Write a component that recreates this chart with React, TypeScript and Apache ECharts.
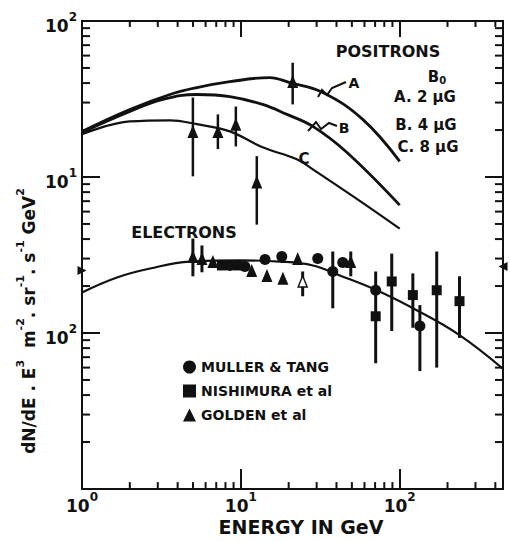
import React, { useEffect, useRef } from 'react';
import * as echarts from 'echarts';

const INK = '#111';
const FONT = '"DejaVu Sans", "Liberation Sans", sans-serif';

// Axis extents (energy in GeV, flux in plotted units)
const xRange = [1, 447];
const yRange = [0.1, 100];

// Minor tick marks (major ticks come from the axes themselves)
const xMinorTicks = [2, 3, 4, 5, 6, 7, 8, 9, 20, 30, 40, 50, 60, 70, 80, 90, 200, 300, 400];
const yMinorTicks = [0.2, 0.3, 0.4, 0.5, 0.6, 0.7, 0.8, 0.9, 2, 3, 4, 5, 6, 7, 8, 9, 20, 30, 40, 50, 60, 70, 80, 90];

// Positron model curves [E, value]
const curveA = [[1, 19.6], [2.0, 27.1], [3.58, 33.8], [5.29, 37.4], [8.53, 40.8], [15.2, 43.4], [20.3, 40.3], [32.8, 34.8], [58.5, 23.4], [100, 12.6]];
const curveB = [[1, 19.3], [2.0, 26.3], [3.23, 31.4], [5.29, 33.8], [8.53, 32.8], [13.7, 29.2], [19.5, 25.2], [28.4, 21.1], [46.4, 14.4], [100, 6.6]];
const curveC = [[1, 18.8], [2.0, 22.7], [3.58, 23.1], [5.29, 21.8], [8.53, 19.6], [13.7, 15.5], [22.5, 13.0], [28.4, 11.2], [53.7, 7.24], [100, 4.67]];

// Electron model curve
const electronCurve = [[1, 1.82], [1.66, 2.27], [2.68, 2.59], [4.78, 2.87], [9.86, 2.92], [17.6, 2.87], [28.4, 2.71], [42, 2.34], [71.7, 1.88], [128, 1.4], [238, 0.97], [447, 0.59]];

// Positron data (triangles) and error bars [E, low, high]
const positronPoints = [[4.99, 19.6], [7.17, 19.6], [9.3, 21.8], [12.6, 9.3], [21.2, 40.9]];
const positronErrors = [[4.99, 10.1, 32.3], [7.17, 15.1, 25.2], [9.3, 15.7, 28.3], [12.6, 4.95, 13.6], [21.2, 29.2, 54]];

// Electron data
const mullerTang = [[8.53, 2.71], [10.6, 2.67], [14.2, 2.96], [18.1, 3.09], [30.5, 3.0], [37.9, 2.48], [43.8, 2.83], [70.6, 1.88], [134, 1.11]];
const nishimura = [[7.6, 2.71], [9.58, 2.71], [70.6, 1.28], [89.1, 2.14], [121, 1.75], [171, 1.88], [238, 1.6]];
const golden = [[4.99, 3.09], [5.69, 3.0], [6.67, 2.87], [11.7, 2.52], [14.6, 2.34], [18.4, 2.24], [22.8, 3.0], [49.2, 2.87]];
const goldenOpen = [[24.5, 2.14]];
const electronErrors = [[4.99, 2.31, 4.03], [5.69, 2.45, 3.64], [24.5, 1.72, 2.48], [37.9, 1.44, 3.33], [49.2, 2.31, 3.33], [70.6, 0.64, 2.48], [89.1, 1.03, 3.23], [121, 1.08, 2.41], [134, 0.57, 1.51], [171, 0.6, 3.33], [238, 0.93, 2.31]];

// Normalisation markers on the frame
const leftMarker = [[1, 2.52]];
const rightMarker = [[447, 2.67]];

// Labels
const xDecadeLabels: Record<number, string> = { 0: '0', 1: '1', 2: '2' };
const yDecadeLabels: Record<number, string> = { 2: '2', 1: '1', 0: '2' };

const supRich = {
  b: { fontSize: 17, fontWeight: 'bold', fontFamily: FONT, color: INK, lineHeight: 20, padding: [10, 0, 0, 0] },
  s: { fontSize: 12, fontWeight: 'bold', fontFamily: FONT, color: INK, lineHeight: 14, verticalAlign: 'top' },
};

function decadeFormatter(map: Record<number, string>) {
  return (v: number) => {
    const l = Math.log10(v);
    const r = Math.round(l);
    if (Math.abs(l - r) > 0.01) return '';
    const s = map[r];
    if (s === undefined) return '';
    return '{b|10}{s|' + s + '}';
  };
}

// tick length expressed as a fraction of a decade (plot is ~158 px per decade)
const PX_PER_DECADE = 158;
const decadeFrac = (px: number) => Math.pow(10, px / PX_PER_DECADE);

export default function App() {
  const ref = useRef<HTMLDivElement>(null);
  useEffect(() => {
    if (!ref.current) return;
    const chart = echarts.init(ref.current, undefined, { renderer: 'svg' });

    // vertical segments: [x, yLow, yHigh]
    const vSegSeries = (data: number[][], width: number, z: number) => ({
      type: 'custom',
      data,
      encode: { x: 0, y: [1, 2] },
      z,
      silent: true,
      renderItem: (params: any, api: any) => {
        const p1 = api.coord([api.value(0), api.value(1)]);
        const p2 = api.coord([api.value(0), api.value(2)]);
        return {
          type: 'line',
          shape: { x1: p1[0], y1: p1[1], x2: p2[0], y2: p2[1] },
          style: { stroke: INK, lineWidth: width },
        };
      },
    });

    // horizontal segments: [xLow, xHigh, y]
    const hSegSeries = (data: number[][], width: number, z: number) => ({
      type: 'custom',
      data,
      encode: { x: [0, 1], y: 2 },
      z,
      silent: true,
      renderItem: (params: any, api: any) => {
        const p1 = api.coord([api.value(0), api.value(2)]);
        const p2 = api.coord([api.value(1), api.value(2)]);
        return {
          type: 'line',
          shape: { x1: p1[0], y1: p1[1], x2: p2[0], y2: p2[1] },
          style: { stroke: INK, lineWidth: width },
        };
      },
    });

    const bottomMinor = xMinorTicks.map((v) => [v, yRange[0], yRange[0] * decadeFrac(7)]);
    const topMinor = xMinorTicks.map((v) => [v, yRange[1] / decadeFrac(6), yRange[1]]);
    const leftMinor = yMinorTicks.map((v) => [xRange[0], xRange[0] * decadeFrac(8), v]);
    const rightMinor = yMinorTicks.map((v) => [xRange[1] / decadeFrac(8), xRange[1], v]);

    const curve = (data: number[][], width: number) => ({
      type: 'line',
      data,
      smooth: 0.4,
      showSymbol: false,
      symbol: 'none',
      z: 2,
      lineStyle: { color: INK, type: 'solid', width, opacity: 1 },
      silent: true,
    });

    const dot = { color: INK, opacity: 1 };

    const option: any = {
      animation: false,
      backgroundColor: '#fff',
      grid: { left: 82, top: 21, right: 7, bottom: 53, show: true, borderColor: INK, borderWidth: 2, backgroundColor: 'transparent' },
      xAxis: [
        {
          type: 'log',
          logBase: 10,
          min: xRange[0],
          max: xRange[1],
          position: 'bottom',
          axisLine: { show: false },
          axisTick: { show: true, inside: true, length: 20, lineStyle: { color: INK, width: 2 } },
          splitLine: { show: false },
          minorTick: { show: false },
          axisLabel: {
            show: true,
            margin: 2,
            showMaxLabel: false,
            formatter: decadeFormatter(xDecadeLabels),
            rich: supRich,
          },
        },
        {
          type: 'log',
          logBase: 10,
          min: xRange[0],
          max: xRange[1],
          position: 'top',
          axisLine: { show: false },
          axisTick: { show: true, inside: true, length: 16, lineStyle: { color: INK, width: 2 } },
          splitLine: { show: false },
          minorTick: { show: false },
          axisLabel: { show: false },
        },
      ],
      yAxis: [
        {
          type: 'log',
          logBase: 10,
          min: yRange[0],
          max: yRange[1],
          position: 'left',
          axisLine: { show: false },
          axisTick: { show: true, inside: true, length: 18, lineStyle: { color: INK, width: 2 } },
          splitLine: { show: false },
          minorTick: { show: false },
          axisLabel: {
            show: true,
            margin: 5,
            formatter: decadeFormatter(yDecadeLabels),
            rich: supRich,
          },
        },
        {
          type: 'log',
          logBase: 10,
          min: yRange[0],
          max: yRange[1],
          position: 'right',
          axisLine: { show: false },
          axisTick: { show: true, inside: true, length: 18, lineStyle: { color: INK, width: 2 } },
          splitLine: { show: false },
          minorTick: { show: false },
          axisLabel: { show: false },
        },
      ],
      legend: {
        data: ['MULLER & TANG', 'NISHIMURA et al', 'GOLDEN et al'],
        orient: 'vertical',
        left: 178,
        top: 355,
        itemWidth: 13,
        itemHeight: 13,
        itemGap: 10,
        selectedMode: false,
        itemStyle: { color: INK, opacity: 1 },
        textStyle: { fontSize: 14, fontWeight: 'bold', color: INK, fontFamily: FONT },
      },
      series: [
        curve(curveA, 2.8),
        curve(curveB, 2.8),
        curve(curveC, 2.2),
        curve(electronCurve, 2.2),
        vSegSeries(positronErrors, 2.5, 3),
        vSegSeries(electronErrors, 3, 3),
        vSegSeries(bottomMinor, 2, 6),
        vSegSeries(topMinor, 2, 6),
        hSegSeries(leftMinor, 2, 6),
        hSegSeries(rightMinor, 2, 6),
        { name: 'Positrons', type: 'scatter', data: positronPoints, symbol: 'triangle', symbolSize: [11, 13], itemStyle: dot, z: 4, silent: true },
        { name: 'MULLER & TANG', type: 'scatter', data: mullerTang, symbol: 'circle', symbolSize: 11, itemStyle: dot, z: 4, silent: true },
        { name: 'NISHIMURA et al', type: 'scatter', data: nishimura, symbol: 'rect', symbolSize: 10, itemStyle: dot, z: 4, silent: true },
        { name: 'GOLDEN et al', type: 'scatter', data: golden, symbol: 'triangle', symbolSize: [11, 13], itemStyle: dot, z: 4, silent: true },
        { type: 'scatter', data: goldenOpen, symbol: 'triangle', symbolSize: [9, 11], itemStyle: { color: '#fff', borderColor: INK, borderWidth: 1.5, opacity: 1 }, z: 5, silent: true },
        { type: 'scatter', data: leftMarker, symbol: 'triangle', symbolRotate: -90, symbolSize: [9, 9], itemStyle: dot, z: 5, clip: false, silent: true },
        { type: 'scatter', data: rightMarker, symbol: 'triangle', symbolRotate: 90, symbolSize: [9, 9], itemStyle: dot, z: 5, clip: false, silent: true },
      ],
      graphic: [
        { type: 'text', x: 388, y: 51, style: { text: 'POSITRONS', font: 'bold 16px ' + FONT, fill: INK, textAlign: 'center', textVerticalAlign: 'middle' } },
        {
          type: 'text', x: 437, y: 77,
          style: {
            text: '{b|B}{s|0}', textAlign: 'center', textVerticalAlign: 'middle',
            rich: {
              b: { fontSize: 15, fontWeight: 'bold', fontFamily: FONT, fill: INK, lineHeight: 16 },
              s: { fontSize: 10, fontWeight: 'bold', fontFamily: FONT, fill: INK, lineHeight: 10, verticalAlign: 'bottom' },
            },
          },
        },
        { type: 'text', x: 425, y: 97, style: { text: 'A. 2 μG', font: 'bold 15px ' + FONT, fill: INK, textAlign: 'center', textVerticalAlign: 'middle' } },
        { type: 'text', x: 426, y: 125, style: { text: 'B. 4 μG', font: 'bold 15px ' + FONT, fill: INK, textAlign: 'center', textVerticalAlign: 'middle' } },
        { type: 'text', x: 428, y: 147, style: { text: 'C. 8 μG', font: 'bold 15px ' + FONT, fill: INK, textAlign: 'center', textVerticalAlign: 'middle' } },
        { type: 'polyline', shape: { points: [[318, 97], [322, 90], [327, 95], [332, 88], [346, 82]] }, style: { stroke: INK, lineWidth: 2, fill: 'none' } },
        { type: 'text', x: 354, y: 83, style: { text: 'A', font: 'bold 14px ' + FONT, fill: INK, textAlign: 'center', textVerticalAlign: 'middle' } },
        { type: 'polyline', shape: { points: [[308, 131], [316, 122], [321, 129], [329, 123], [337, 126]] }, style: { stroke: INK, lineWidth: 2, fill: 'none' } },
        { type: 'text', x: 344, y: 128, style: { text: 'B', font: 'bold 14px ' + FONT, fill: INK, textAlign: 'center', textVerticalAlign: 'middle' } },
        { type: 'text', x: 304, y: 159, style: { text: 'C', font: 'bold 15px ' + FONT, fill: INK, textAlign: 'center', textVerticalAlign: 'middle' } },
        { type: 'text', x: 184, y: 232, style: { text: 'ELECTRONS', font: 'bold 16px ' + FONT, fill: INK, textAlign: 'center', textVerticalAlign: 'middle' } },
        { type: 'text', x: 301, y: 527, style: { text: 'ENERGY IN GeV', font: 'bold 19px ' + FONT, fill: INK, textAlign: 'center', textVerticalAlign: 'middle' } },
        {
          type: 'text', x: 26, y: 321, rotation: Math.PI / 2,
          style: {
            text: '{t|dN/dE . E}{s|3}{t|  m}{s|-2}{t|. sr}{s|-1}{t|. s}{s|-1}{t| GeV}{s|2}',
            textAlign: 'center', textVerticalAlign: 'middle',
            rich: {
              t: { fontSize: 17, fontWeight: 'bold', fontFamily: FONT, fill: INK, lineHeight: 22, padding: [6, 0, 0, 0] },
              s: { fontSize: 11, fontWeight: 'bold', fontFamily: FONT, fill: INK, lineHeight: 12, verticalAlign: 'top' },
            },
          },
        },
      ],
    };

    chart.setOption(option);
    return () => chart.dispose();
  }, []);

  return <div ref={ref} style={{ position: 'fixed', left: 0, top: 0, width: 510, height: 542, background: '#fff' }} />;
}
